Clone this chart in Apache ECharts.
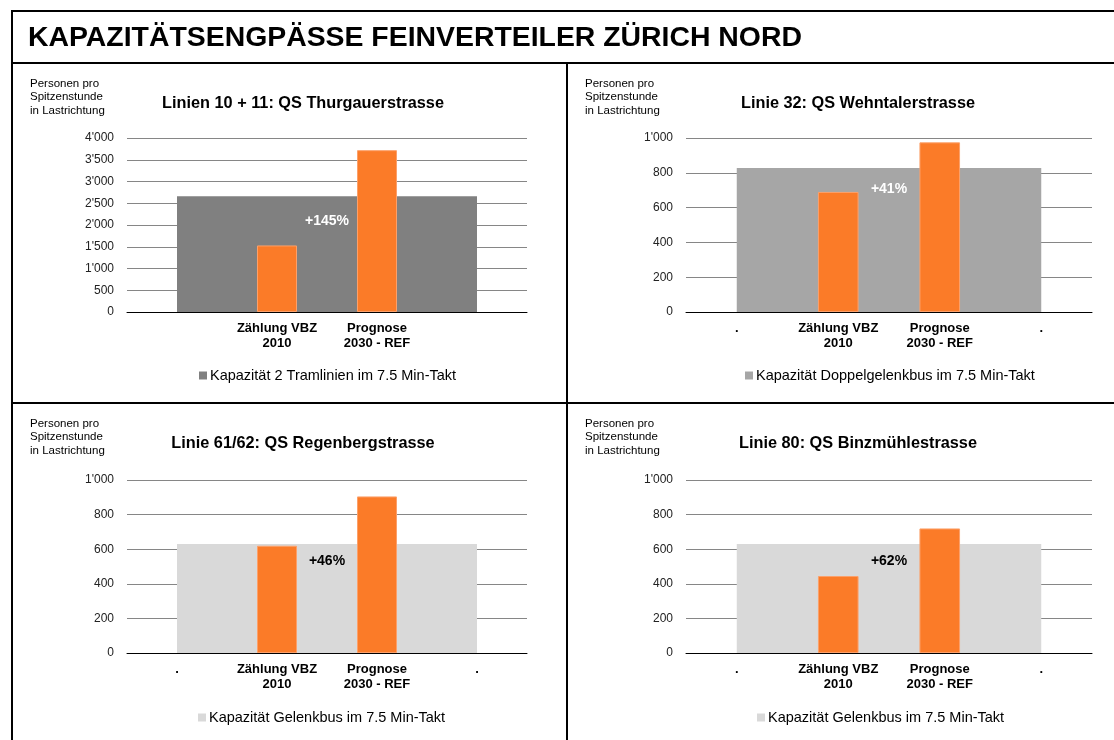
<!DOCTYPE html>
<html>
<head>
<meta charset="utf-8">
<script src="https://cdn.jsdelivr.net/npm/echarts@6/dist/echarts.min.js"></script>
<style>
  html, body { margin: 0; padding: 0; background: #fff; }
  #chart { width: 1114px; height: 740px; }
</style>
</head>
<body>
<div id="chart"></div>
<script>
// Daten
const mainTitle = 'KAPAZITÄTSENGPÄSSE FEINVERTEILER ZÜRICH NORD'
const panelTitles = [
  'Linien 10 + 11: QS Thurgauerstrasse',
  'Linie 32: QS Wehntalerstrasse',
  'Linie 61/62: QS Regenbergstrasse',
  'Linie 80: QS Binzmühlestrasse'
]
const yAxisNote = ['Personen pro', 'Spitzenstunde', 'in Lastrichtung']
const categoriesPlain = ['', 'Zählung VBZ\n2010', 'Prognose\n2030 - REF', '']
const categoriesDots = ['.', 'Zählung VBZ\n2010', 'Prognose\n2030 - REF', '.']
const capacityNames = [
  'Kapazität 2 Tramlinien im 7.5 Min-Takt',
  'Kapazität Doppelgelenkbus im 7.5 Min-Takt',
  'Kapazität Gelenkbus im 7.5 Min-Takt',
  'Kapazität Gelenkbus im 7.5 Min-Takt'
]
const capacity = [2660, 828, 630, 630]
const count2010 = [1530, 690, 620, 445]
const forecast2030 = [3720, 975, 905, 720]
const growthLabels = ['+145%', '+41%', '+46%', '+62%']
const yMax = [4000, 1000, 1000, 1000]
const yStep = [500, 200, 200, 200]

const capacityColors = ['#808080', '#a6a6a6', '#d9d9d9', '#d9d9d9']
const labelColors = ['#fff', '#fff', '#000', '#000']
const orange = '#fb7b28'
const font = 'Liberation Sans, Arial, sans-serif'

// Anordnung der vier Diagramme
const grids = [
  { left: 127, top: 138, width: 400, height: 174 },
  { left: 686, top: 138, width: 406, height: 174 },
  { left: 127, top: 480, width: 400, height: 173 },
  { left: 686, top: 480, width: 406, height: 173 }
]
const panelOffsets = [[12, 63], [567, 63], [12, 403], [567, 403]]
const legendLeft = [199, 745, 198, 757]

const fmt = v => String(v).replace(/\B(?=(\d{3})+(?!\d))/g, "'")

const option = {
  animation: false,
  backgroundColor: '#fff',
  textStyle: { fontFamily: font },
  grid: grids,
  xAxis: [],
  yAxis: [],
  legend: [],
  series: [],
  graphic: []
}

for (let i = 0; i < 4; i++) {
  option.xAxis.push({
    type: 'category',
    gridIndex: i,
    data: i === 0 ? categoriesPlain : categoriesDots,
    axisTick: { show: false },
    axisLine: { lineStyle: { color: '#000', width: 1 } },
    axisLabel: {
      interval: 0, color: '#000', fontWeight: 'bold', fontSize: 13,
      lineHeight: 15, margin: 9, fontFamily: font
    }
  })
  option.yAxis.push({
    type: 'value',
    gridIndex: i,
    min: 0,
    max: yMax[i],
    interval: yStep[i],
    axisLine: { show: false },
    axisTick: { show: false },
    splitLine: { lineStyle: { color: '#868686', width: 1 } },
    axisLabel: { color: '#222', fontSize: 12, margin: 13, formatter: fmt, fontFamily: font }
  })
  option.series.push({
    name: capacityNames[i],
    type: 'line',
    xAxisIndex: i,
    yAxisIndex: i,
    data: categoriesDots.map(() => capacity[i]),
    symbol: 'none',
    color: capacityColors[i],
    lineStyle: { width: 0, color: capacityColors[i] },
    areaStyle: { color: capacityColors[i], opacity: 1 },
    z: 1
  })
  option.series.push({
    name: 'Personen',
    type: 'bar',
    xAxisIndex: i,
    yAxisIndex: i,
    barWidth: '40%',
    data: ['-', count2010[i], forecast2030[i], '-'],
    itemStyle: { color: orange, borderColor: '#fca06a', borderWidth: 1 },
    z: 3
  })
  option.legend.push({
    data: [capacityNames[i]],
    left: legendLeft[i],
    top: (i < 2 ? 376 : 718) - 8,
    padding: 0,
    icon: 'rect',
    itemWidth: 8,
    itemHeight: 8,
    selectedMode: false,
    textStyle: { fontSize: 14.5, color: '#000', fontFamily: font, padding: [0, 0, 0, -2] }
  })

  const [ox, oy] = panelOffsets[i]
  option.graphic.push({
    type: 'text', x: ox + 291, y: oy + 41,
    style: {
      text: panelTitles[i], font: 'bold 16.3px ' + font, fill: '#000',
      textAlign: 'center', textVerticalAlign: 'middle'
    }
  })
  option.graphic.push({
    type: 'text', x: ox + 18, y: oy + 34,
    style: {
      text: yAxisNote.join('\n'), font: '11.5px ' + font, fill: '#000',
      lineHeight: 13.5, textAlign: 'left', textVerticalAlign: 'middle'
    }
  })
  const g = grids[i]
  option.graphic.push({
    type: 'text', x: g.left + g.width / 2, y: i === 0 ? 221 : (i === 1 ? 189 : 561),
    style: {
      text: growthLabels[i], font: 'bold 14px ' + font, fill: labelColors[i],
      textAlign: 'center', textVerticalAlign: 'middle'
    },
    z: 10
  })
}

// Haupttitel und Rahmenlinien
option.graphic.push(
  {
    type: 'text', x: 28, y: 38,
    style: { text: mainTitle, font: 'bold 28.4px ' + font, fill: '#000', textAlign: 'left', textVerticalAlign: 'middle' }
  },
  { type: 'line', shape: { x1: 12, y1: 11, x2: 1114, y2: 11 }, style: { stroke: '#000', lineWidth: 2 } },
  { type: 'line', shape: { x1: 12, y1: 10, x2: 12, y2: 740 }, style: { stroke: '#000', lineWidth: 2 } },
  { type: 'line', shape: { x1: 12, y1: 63, x2: 1114, y2: 63 }, style: { stroke: '#000', lineWidth: 2 } },
  { type: 'line', shape: { x1: 567, y1: 63, x2: 567, y2: 740 }, style: { stroke: '#000', lineWidth: 2 } },
  { type: 'line', shape: { x1: 12, y1: 403, x2: 1114, y2: 403 }, style: { stroke: '#000', lineWidth: 2 } }
)

const chart = echarts.init(document.getElementById('chart'), null, { renderer: 'canvas' })
chart.setOption(option)
window.addEventListener('resize', () => {
  chart.resize()
})
</script>
</body>
</html>
